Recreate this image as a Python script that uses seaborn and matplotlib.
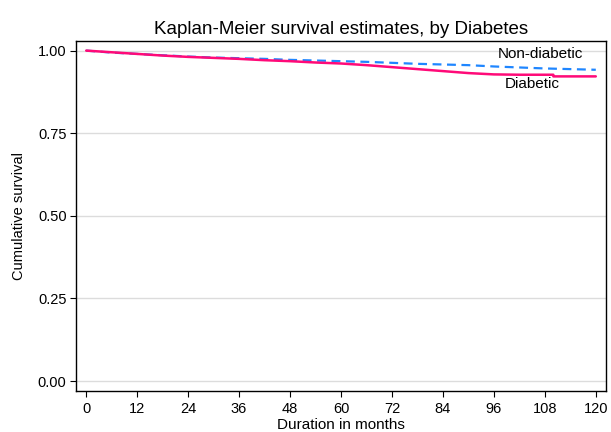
import matplotlib
matplotlib.use("Agg")
import matplotlib.pyplot as plt
import pandas as pd
import seaborn as sns

# Kaplan-Meier estimates (months, survival)
months_nondiab = [0, 6, 12, 18, 24, 30, 36, 42, 48, 54, 60, 66, 72, 78, 84,
                  90, 96, 102, 108, 114, 120]
surv_nondiab = [1.000, 0.994, 0.990, 0.986, 0.982, 0.979, 0.977, 0.975, 0.972,
                0.970, 0.968, 0.966, 0.963, 0.960, 0.958, 0.956, 0.952, 0.949,
                0.946, 0.944, 0.942]

months_diab = [0, 6, 12, 18, 24, 30, 36, 42, 48, 54, 60, 66, 72, 78, 84,
               90, 96, 102, 110, 110, 120]
surv_diab = [1.000, 0.995, 0.990, 0.985, 0.981, 0.978, 0.975, 0.971, 0.968,
             0.964, 0.961, 0.956, 0.950, 0.944, 0.938, 0.932, 0.928, 0.927,
             0.927, 0.922, 0.922]

x_ticks = [0, 12, 24, 36, 48, 60, 72, 84, 96, 108, 120]
y_ticks = [0.00, 0.25, 0.50, 0.75, 1.00]

sns.set_style("white")
plt.rcParams["font.family"] = ["Liberation Sans", "DejaVu Sans"]
plt.rcParams["text.color"] = "black"
plt.rcParams["axes.labelcolor"] = "black"
plt.rcParams["xtick.color"] = "black"
plt.rcParams["ytick.color"] = "black"

nondiab = pd.DataFrame({"month": months_nondiab, "surv": surv_nondiab})
diab = pd.DataFrame({"month": months_diab, "surv": surv_diab})

fig, ax = plt.subplots(figsize=(6.11, 4.32), dpi=100)
fig.subplots_adjust(left=0.1244, right=0.9918, top=0.9058, bottom=0.0949)

for y in y_ticks:
    ax.axhline(y, color="#dcdcdc", linewidth=1.0, zorder=0)

sns.lineplot(data=nondiab, x="month", y="surv", ax=ax, color="#1f86ff",
             linestyle=(0, (4, 2.5)), linewidth=1.6, estimator=None,
             sort=False)
sns.lineplot(data=diab, x="month", y="surv", ax=ax, color="#ff0a78",
             linewidth=1.8, estimator=None, sort=False)

ax.text(107, 0.991, "Non-diabetic", ha="center", va="center", fontsize=11)
ax.text(105, 0.900, "Diabetic", ha="center", va="center", fontsize=11)

ax.set_xlim(-2.4, 122.4)
ax.set_ylim(-0.03, 1.03)
ax.set_xticks(x_ticks)
ax.set_yticks(y_ticks)
ax.set_yticklabels([f"{v:.2f}" for v in y_ticks])
ax.tick_params(axis="both", direction="out", length=4.3, width=0.8,
               color="black", labelsize=10.5, pad=2.5, left=True, bottom=True)
ax.tick_params(axis="x", pad=3.5)

for side in ["left", "right", "top", "bottom"]:
    ax.spines[side].set_visible(True)
    ax.spines[side].set_color("black")
    ax.spines[side].set_linewidth(1.0)

ax.set_xlabel("Duration in months", fontsize=11)
ax.set_ylabel("Cumulative survival", fontsize=10.5)
ax.xaxis.set_label_coords(0.5, -0.078)
ax.yaxis.set_label_coords(-0.095, 0.5)
ax.set_title("Kaplan-Meier survival estimates, by Diabetes", fontsize=13.5,
             pad=5)

fig.savefig("out.png", dpi=100)
